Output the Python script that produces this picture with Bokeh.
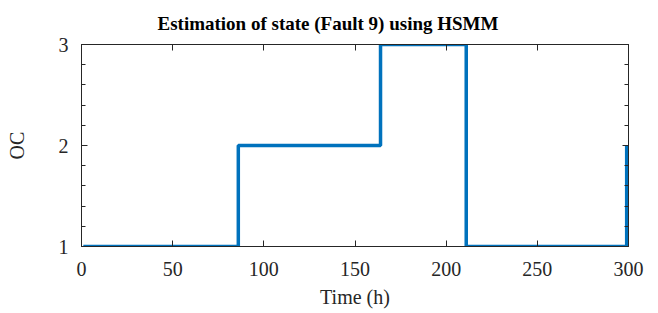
from bokeh.plotting import figure
from bokeh.models import LinearAxis, FixedTicker, Range1d
from bokeh.embed import file_html
from bokeh.resources import INLINE

# Data
change_times = [1, 86, 164, 211, 299]
states = [1, 2, 3, 1, 2]
x_ticks = [0, 50, 100, 150, 200, 250, 300]
y_ticks = [1, 2, 3]
y_minor = [1.2, 1.4, 1.6, 1.8, 2.2, 2.4, 2.6, 2.8]

FONT = "Liberation Serif"
DARK = "#262626"

p = figure(width=650, height=313, output_backend="svg", toolbar_location=None,
           x_range=Range1d(0, 300), y_range=Range1d(1, 3),
           min_border_left=81, min_border_right=22, min_border_top=43, min_border_bottom=67)

p.title.text = "Estimation of state (Fault 9) using HSMM"
p.title.text_font = FONT
p.title.text_font_style = "bold"
p.title.text_font_size = "19px"
p.title.align = "left"
p.title.offset = 76
p.title.text_color = "black"
p.title.standoff = 21

p.step(change_times, states, mode="after", line_color="#0072BD", line_width=3.5)

p.xgrid.visible = False
p.ygrid.visible = False
p.outline_line_color = DARK
p.outline_line_width = 1
p.background_fill_color = "white"
p.border_fill_color = "white"

def style(ax, ticks, minor, labels=True):
    ax.ticker = FixedTicker(ticks=ticks, minor_ticks=minor)
    ax.axis_line_color = DARK
    ax.major_tick_line_color = DARK
    ax.minor_tick_line_color = DARK
    ax.major_tick_in = 6
    ax.major_tick_out = 0
    ax.minor_tick_in = 4
    ax.minor_tick_out = 0
    if labels:
        ax.major_label_text_font = FONT
        ax.major_label_text_font_size = "20px"
        ax.major_label_text_color = DARK
        ax.axis_label_text_font = FONT
        ax.axis_label_text_font_size = "20px"
        ax.axis_label_text_font_style = "normal"
        ax.axis_label_text_color = DARK
    else:
        ax.major_label_text_font_size = "0px"
        ax.major_label_text_alpha = 0
        ax.major_label_standoff = 0

xa = p.xaxis[0]
style(xa, x_ticks, [])
xa.axis_label = "Time (h)"
xa.major_label_standoff = 15
xa.axis_label_standoff = 7

ya = p.yaxis[0]
style(ya, y_ticks, y_minor)
ya.axis_label = "OC"
ya.major_label_standoff = 13
ya.axis_label_standoff = 28

top = LinearAxis()
style(top, x_ticks, [], labels=False)
p.add_layout(top, "above")

right = LinearAxis()
style(right, y_ticks, y_minor, labels=False)
p.add_layout(right, "right")

open("out.html", "w").write(file_html(p, INLINE))
